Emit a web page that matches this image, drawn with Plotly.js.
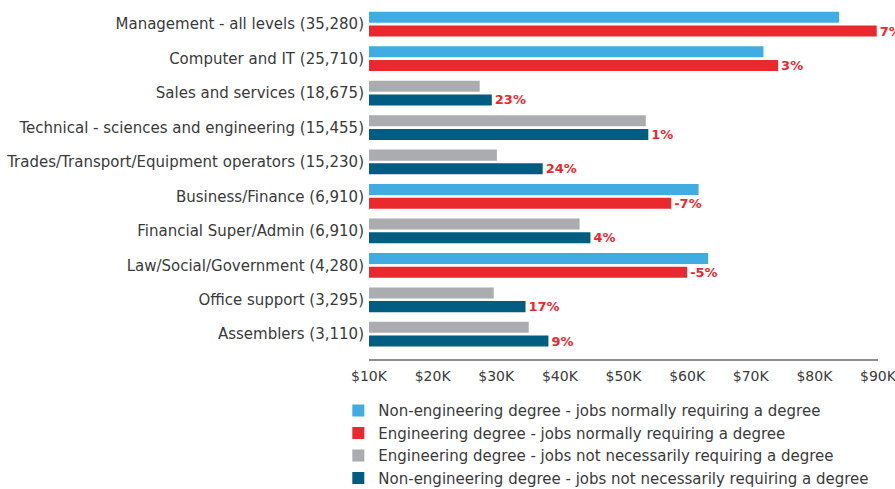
<!DOCTYPE html>
<html>
<head>
<meta charset="utf-8">
<script src="https://cdn.plot.ly/plotly-3.0.1.min.js"></script>
<style>
  html, body { margin: 0; padding: 0; background: #ffffff; }
  #chart { width: 895px; height: 489px; }
</style>
</head>
<body>
<div id="chart"></div>
<script>
// Categories (top to bottom)
const categories = [
  "Management - all levels (35,280)",
  "Computer and IT (25,710)",
  "Sales and services (18,675)",
  "Technical - sciences and engineering (15,455)",
  "Trades/Transport/Equipment operators (15,230)",
  "Business/Finance (6,910)",
  "Financial Super/Admin (6,910)",
  "Law/Social/Government (4,280)",
  "Office support (3,295)",
  "Assemblers (3,110)"
];

// Series values (salary, $)
const nonEngDegreeJobsRequiring = [83900, 72000, null, null, null, 61800, null, 63300, null, null];
const engDegreeJobsRequiring    = [89800, 74300, null, null, null, 57500, null, 60000, null, null];
const engDegreeJobsNotRequiring = [null, null, 27400, 53500, 30100, null, 43100, null, 29600, 35100];
const nonEngDegreeJobsNotRequiring = [null, null, 29300, 53900, 37300, null, 44800, null, 34600, 38200];

// Percent difference labels (shown at end of lower bar)
const pctLabels = ["7%", "3%", "23%", "1%", "24%", "-7%", "4%", "-5%", "17%", "9%"];

// Series names
const seriesNames = [
  "Non-engineering degree - jobs normally requiring a degree",
  "Engineering degree - jobs normally requiring a degree",
  "Engineering degree - jobs not necessarily requiring a degree",
  "Non-engineering degree - jobs not necessarily requiring a degree"
];

// Axis ticks
const xTickVals = [10000, 20000, 30000, 40000, 50000, 60000, 70000, 80000, 90000];
const xTickText = ["$10K", "$20K", "$30K", "$40K", "$50K", "$60K", "$70K", "$80K", "$90K"];

const colors = ["#41ACE2", "#E9292E", "#ABACAF", "#005D82"];
const pctColor = "#E9292E";
const FONT = "DejaVu Sans";

function labelsFor(vals) {
  return vals.map((v, i) => (v === null ? "" : pctLabels[i]));
}

const common = {
  type: "bar",
  orientation: "h",
  y: categories,
  hoverinfo: "skip",
  cliponaxis: false
};

const textStyle = {
  textposition: "outside",
  constraintext: "none",
  textangle: 0,
  textfont: { family: FONT, size: 13, color: pctColor, weight: "bold" }
};

const traces = [
  Object.assign({}, common, {
    name: seriesNames[0], x: nonEngDegreeJobsRequiring,
    marker: { color: colors[0] }, offsetgroup: "a", legendgroup: "g1"
  }),
  Object.assign({}, common, textStyle, {
    name: seriesNames[1], x: engDegreeJobsRequiring,
    text: labelsFor(engDegreeJobsRequiring),
    marker: { color: colors[1] }, offsetgroup: "b", legendgroup: "g2"
  }),
  Object.assign({}, common, {
    name: seriesNames[2], x: engDegreeJobsNotRequiring,
    marker: { color: colors[2] }, offsetgroup: "a", legendgroup: "g3"
  }),
  Object.assign({}, common, textStyle, {
    name: seriesNames[3], x: nonEngDegreeJobsNotRequiring,
    text: labelsFor(nonEngDegreeJobsNotRequiring),
    marker: { color: colors[3] }, offsetgroup: "b", legendgroup: "g4"
  })
];

const layout = {
  width: 895,
  height: 489,
  paper_bgcolor: "#ffffff",
  plot_bgcolor: "#ffffff",
  font: { family: FONT, size: 15, color: "#3a3a3a" },
  margin: { l: 369, r: 17, t: 7, b: 130, pad: 0, autoexpand: false },
  barmode: "group",
  bargap: 0.203,
  bargroupgap: 0.197,
  showlegend: true,
  legend: {
    orientation: "v",
    traceorder: "normal",
    xref: "container",
    yref: "container",
    x: 0.378,
    xanchor: "left",
    y: 0.194,
    yanchor: "top",
    font: { family: FONT, size: 15, color: "#3a3a3a" },
    tracegroupgap: 5,
    bgcolor: "rgba(0,0,0,0)"
  },
  xaxis: {
    range: [10000, 90000],
    tickvals: xTickVals,
    ticktext: xTickText,
    ticklabeloverflow: "allow",
    showgrid: false,
    zeroline: false,
    showline: true,
    linecolor: "#8f8f8f",
    linewidth: 2,
    ticks: "",
    ticklabelstandoff: 3,
    tickfont: { family: FONT, size: 14, color: "#3a3a3a" },
    fixedrange: true
  },
  yaxis: {
    type: "category",
    categoryorder: "array",
    categoryarray: categories,
    range: [9.72, -0.5],
    showgrid: false,
    zeroline: false,
    showline: false,
    ticks: "",
    ticklabelstandoff: 4,
    tickfont: { family: FONT, size: 15, color: "#3a3a3a" },
    fixedrange: true
  }
};

Plotly.newPlot("chart", traces, layout, { displayModeBar: false, staticPlot: true });
</script>
</body>
</html>
